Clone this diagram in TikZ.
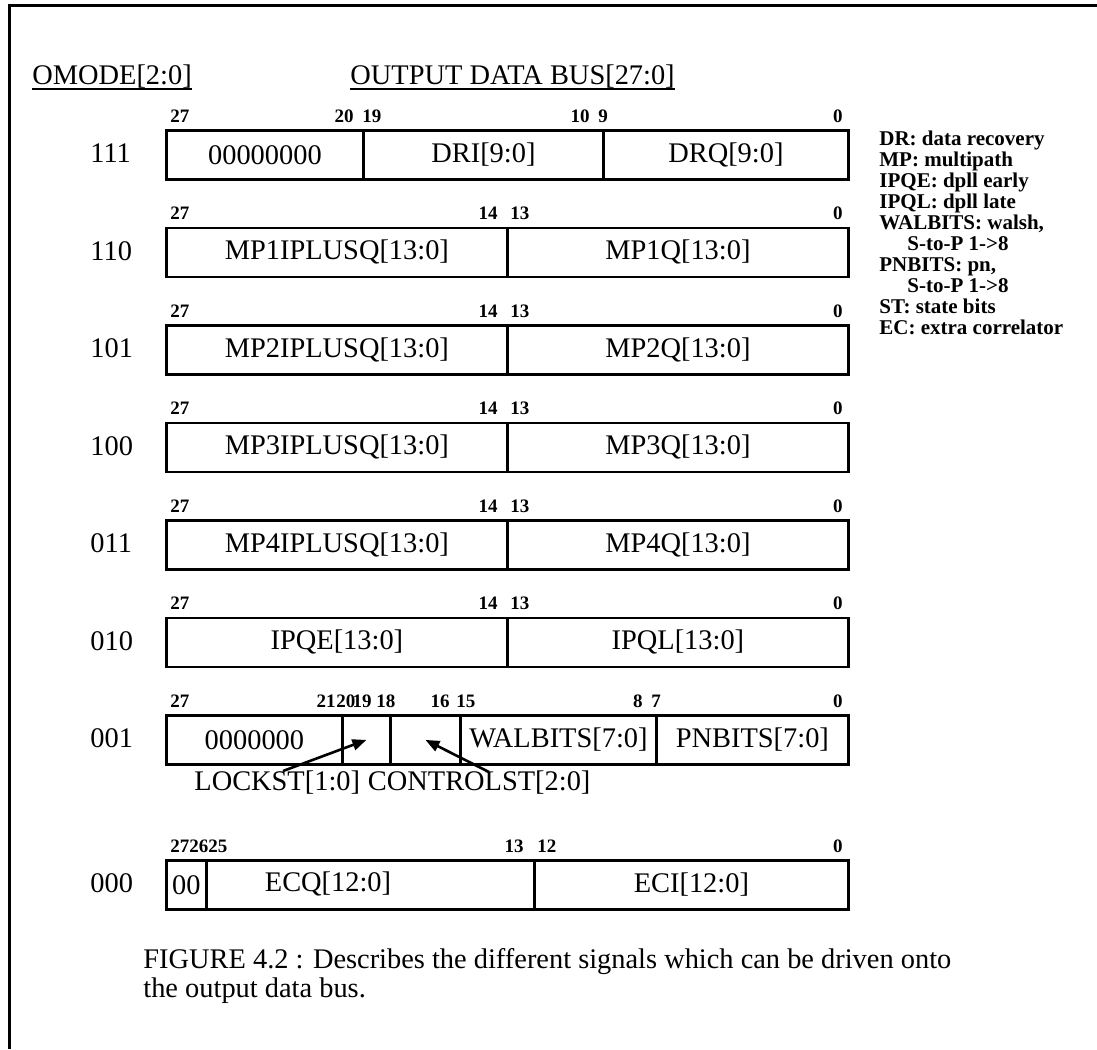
\documentclass[tikz,border=0pt]{standalone}
\usepackage{fontspec}
\setmainfont{Liberation Serif}
\usetikzlibrary{arrows.meta}
\tikzset{
  fcell/.style={draw, line width=1.4pt, inner sep=0pt, anchor=north west, minimum height=24.5pt, font=\fontsize{14.2}{17}\selectfont},
  celltxt/.style={inner sep=0pt, font=\fontsize{14.2}{17}\selectfont},
  rowlbl/.style={inner sep=0pt, anchor=west, font=\fontsize{14.2}{17}\selectfont},
  bitl/.style={inner sep=0pt, font=\bfseries\fontsize{9.5}{10}\selectfont},
  lgd/.style={inner sep=0pt, anchor=base west, font=\bfseries\fontsize{10.5}{11}\selectfont},
  captxt/.style={inner sep=0pt, anchor=base west, font=\fontsize{14.2}{17}\selectfont},
  ptr/.style={line width=1.3pt, -{Triangle[length=7pt,width=5.5pt]}},
  frame/.style={line width=1.5pt},
}
\newcommand\fcell[5]{\node[fcell, minimum width={(#3-#2)*0.5pt}] (#1) at (#2,#4) {#5};}
\newcommand\bitw[4]{\node[bitl, anchor=base west] (#1) at (#2,#3) {#4};}
\newcommand\bite[4]{\node[bitl, anchor=base east] (#1) at (#2,#3) {#4};}
\begin{document}
\begin{tikzpicture}[x=0.5pt,y=-0.5pt]
\useasboundingbox (0,0) rectangle (1097,1049);
% frame
\draw[frame] (9,1049) -- (9,5) -- (1097,5);
% titles
\node[captxt] (om) at (32,84) {OMODE[2:0]};
\draw[line width=0.8pt] ([yshift=-2.6pt]om.base west) -- ([yshift=-2.6pt]om.base east);
\node[captxt] (odb) at (350,84) {OUTPUT DATA BUS[27:0]};
\draw[line width=0.8pt] ([yshift=-2.6pt]odb.base west) -- ([yshift=-2.6pt]odb.base east);
% row 111
\node[rowlbl] (l111) at (90,153.5) {111};
\fcell{a1}{165}{362}{129}{00000000}
\fcell{a2}{362}{602}{129}{DRI[9:0]}
\fcell{a3}{602}{847}{129}{DRQ[9:0]}
\bitw{a27}{170}{122}{27}\bite{a20}{354}{122}{20}\bitw{a19}{362}{122}{19}
\bite{a10}{590}{122}{10}\bitw{a9}{598}{122}{9}\bite{a0}{843}{122}{0}
% row 110
\node[rowlbl] (l110) at (90,251) {110};
\fcell{b1}{165}{506}{226.5}{MP1IPLUSQ[13:0]}
\fcell{b2}{506}{847}{226.5}{MP1Q[13:0]}
\bitw{b27}{170}{219.5}{27}\bite{b14}{498}{219.5}{14}\bitw{b13}{510}{219.5}{13}\bite{b0}{843}{219.5}{0}
% row 101
\node[rowlbl] (l101) at (90,348.5) {101};
\fcell{c1}{165}{506}{324}{MP2IPLUSQ[13:0]}
\fcell{c2}{506}{847}{324}{MP2Q[13:0]}
\bitw{c27}{170}{317}{27}\bite{c14}{498}{317}{14}\bitw{c13}{510}{317}{13}\bite{c0}{843}{317}{0}
% row 100
\node[rowlbl] (l100) at (90,446) {100};
\fcell{d1}{165}{506}{421.5}{MP3IPLUSQ[13:0]}
\fcell{d2}{506}{847}{421.5}{MP3Q[13:0]}
\bitw{d27}{170}{414.5}{27}\bite{d14}{498}{414.5}{14}\bitw{d13}{510}{414.5}{13}\bite{d0}{843}{414.5}{0}
% row 011
\node[rowlbl] (l011) at (90,543.5) {011};
\fcell{e1}{165}{506}{519}{MP4IPLUSQ[13:0]}
\fcell{e2}{506}{847}{519}{MP4Q[13:0]}
\bitw{e27}{170}{512}{27}\bite{e14}{498}{512}{14}\bitw{e13}{510}{512}{13}\bite{e0}{843}{512}{0}
% row 010
\node[rowlbl] (l010) at (90,641) {010};
\fcell{f1}{165}{506}{616.5}{IPQE[13:0]}
\fcell{f2}{506}{847}{616.5}{IPQL[13:0]}
\bitw{f27}{170}{609.5}{27}\bite{f14}{498}{609.5}{14}\bitw{f13}{510}{609.5}{13}\bite{f0}{843}{609.5}{0}
% row 001
\node[rowlbl] (l001) at (90,738.5) {001};
\fcell{g1}{165}{341}{714}{0000000}
\fcell{lk}{341}{389}{714}{}
\fcell{ct}{389}{459}{714}{}
\fcell{g4}{459}{655}{714}{WALBITS[7:0]}
\fcell{g5}{655}{847}{714}{PNBITS[7:0]}
\bitw{g27}{170}{707}{27}\bite{g21}{336}{707}{21}\bitw{g20}{336}{707}{20}\bite{g19}{372}{707}{19}
\bitw{g18}{376}{707}{18}\bite{g16}{450}{707}{16}\bitw{g15}{456}{707}{15}
\bite{g8}{643}{707}{8}\bitw{g7}{651}{707}{7}\bite{g0}{843}{707}{0}
\node[captxt] (lockst) at (194,790) {LOCKST[1:0]};
\node[captxt] (ctrlst) at ([xshift=3.55pt]lockst.base east) {CONTROLST[2:0]};
\coordinate (lkt) at (283,771);
\coordinate (ctt) at (489,772);
\draw[ptr] (lkt) -- (lk.center);
\draw[ptr] (ctt) -- (ct.center);
% row 000
\node[rowlbl] (l000) at (90,883.5) {000};
\fcell{h1}{165}{205}{859}{00}
\fcell{h2}{205}{533}{859}{}
\node[celltxt] (ecq) at (328,883.5) {ECQ[12:0]};
\fcell{h3}{533}{847}{859}{ECI[12:0]}
\bitw{h27}{170}{852}{27}\bitw{h26}{189}{852}{26}\bitw{h25}{208}{852}{25}
\bite{h13}{524}{852}{13}\bitw{h12}{537}{852}{12}\bite{h0}{843}{852}{0}
% legend
\node[lgd] (k1) at (879,145) {DR: data recovery};
\node[lgd] (k2) at (879,166) {MP: multipath};
\node[lgd] (k3) at (879,187) {IPQE: dpll early};
\node[lgd] (k4) at (879,208) {IPQL: dpll late};
\node[lgd] (k5) at (879,229) {WALBITS: walsh,};
\node[lgd] (k6) at (907,250) {S-to-P 1->8};
\node[lgd] (k7) at (879,271) {PNBITS: pn,};
\node[lgd] (k8) at (907,292) {S-to-P 1->8};
\node[lgd] (k9) at (879,313) {ST: state bits};
\node[lgd] (k10) at (879,334) {EC: extra correlator};
% caption
\node[captxt] (cap1) at (143,968) {FIGURE 4.2 : Describes the different signals which can be driven onto};
\node[captxt] (cap2) at (143,997) {the output data bus.};
\end{tikzpicture}
\end{document}
